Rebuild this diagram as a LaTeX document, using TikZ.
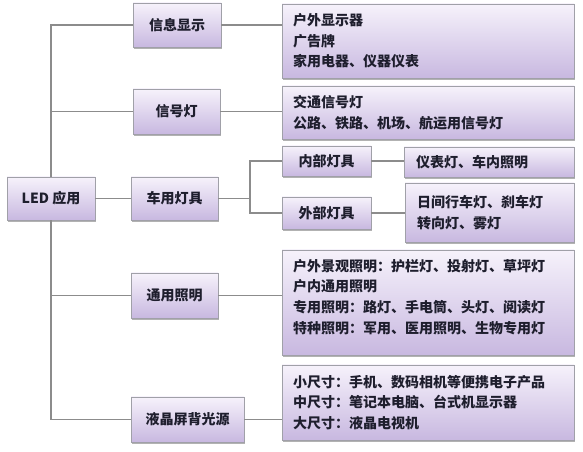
\documentclass[tikz,border=0pt]{standalone}
\usepackage{fontspec}
\setmainfont{Noto Sans CJK SC}
\usetikzlibrary{shadows}
\definecolor{boxtop}{RGB}{246,242,251}
\definecolor{boxbot}{RGB}{200,184,224}
\definecolor{boxline}{RGB}{160,160,168}
\definecolor{conn}{RGB}{140,140,140}
\definecolor{txt}{RGB}{30,30,45}
\tikzset{
  pbox/.style={draw=boxline, line width=0.6pt, top color=boxtop, bottom color=boxbot,
    drop shadow={shadow xshift=0.8pt, shadow yshift=-1.2pt, fill=black!50, opacity=0.6},
    inner sep=0pt, text=txt, font=\fontsize{10.5}{15.4}\selectfont\bfseries},
  lbl/.style={pbox, align=center},
  lst/.style={pbox, align=left},
  wire/.style={draw=conn, line width=0.8pt}
}
\begin{document}
\begin{tikzpicture}[x=0.75pt,y=-0.75pt]
\useasboundingbox[fill=white] (0,0) rectangle (583,452);
% level 1 and 2
\node[lbl, minimum width=88*0.75pt, minimum height=43*0.75pt] (led) at (51,198.5) {LED 应用};
\node[lbl, minimum width=88*0.75pt, minimum height=44*0.75pt] (xx) at (177,25) {信息显示};
\node[lbl, minimum width=87*0.75pt, minimum height=45*0.75pt] (xh) at (176.5,111.5) {信号灯};
\node[lbl, minimum width=87*0.75pt, minimum height=43*0.75pt] (cy) at (174.5,198.5) {车用灯具};
\node[lbl, minimum width=87*0.75pt, minimum height=45*0.75pt] (ty) at (174.5,295.5) {通用照明};
\node[lbl, minimum width=113*0.75pt, minimum height=45*0.75pt] (yj) at (187.5,419.5) {液晶屏背光源};
% level 3
\node[lst, minimum width=292*0.75pt, minimum height=74*0.75pt, text width=270*0.75pt] (b1) at (428,41)
  {户外显示器\\广告牌\\家用电器、仪器仪表};
\node[lst, minimum width=292*0.75pt, minimum height=53*0.75pt, text width=270*0.75pt] (b2) at (428,112.5)
  {交通信号灯\\公路、铁路、机场、航运用信号灯};
\node[lbl, minimum width=89*0.75pt, minimum height=30*0.75pt] (nb) at (326.5,161) {内部灯具};
\node[lbl, minimum width=89*0.75pt, minimum height=32*0.75pt] (wb) at (326.5,213) {外部灯具};
\node[lst, minimum width=170*0.75pt, minimum height=30*0.75pt, text width=146*0.75pt] (yb) at (489,162)
  {仪表灯、车内照明};
\node[lst, minimum width=169*0.75pt, minimum height=59*0.75pt, text width=145*0.75pt] (rj) at (489.5,212.5)
  {日间行车灯、刹车灯\\转向灯、雾灯};
\node[lst, minimum width=292*0.75pt, minimum height=105*0.75pt, text width=270*0.75pt] (b4) at (428,302.5)
  {户外景观照明：护栏灯、投射灯、草坪灯\\户内通用照明\\专用照明：路灯、手电筒、头灯、阅读灯\\特种照明：军用、医用照明、生物专用灯\\[-6pt]\mbox{}};
\node[lst, minimum width=292*0.75pt, minimum height=75*0.75pt, text width=270*0.75pt] (b5) at (428,402.5)
  {小尺寸：手机、数码相机等便携电子产品\\中尺寸：笔记本电脑、台式机显示器\\大尺寸：液晶电视机};
\coordinate (cj) at (250,198.5);
% connectors: trunk
\draw[wire] (xx.west) -| (led.north);
\draw[wire] (yj.west) -| (led.south);
\draw[wire] (xh.west) -- (xh.west -| led.north);
\draw[wire] (ty.west) -- (ty.west -| led.south);
\draw[wire] (led) -- (cy);
% second level to third level
\draw[wire] (xx.east) -- (xx.east -| b1.west);
\draw[wire] (xh.east) -- (xh.east -| b2.west);
\draw[wire] (ty.east) -- (ty.east -| b4.west);
\draw[wire] (yj.east) -- (yj.east -| b5.west);
\draw[wire] (cy.east) -- (cj);
\draw[wire] (nb.west) -| (cj) |- (wb.west);
\draw[wire] (nb.east) -- (nb.east -| yb.west);
\draw[wire] (wb.east) -- (wb.east -| rj.west);
\end{tikzpicture}
\end{document}
